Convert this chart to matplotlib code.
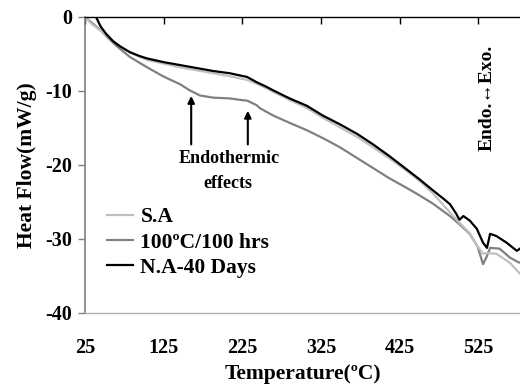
import matplotlib
matplotlib.use("Agg")
import matplotlib.pyplot as plt

plt.rcParams['font.family'] = ['Liberation Serif', 'DejaVu Serif']
plt.rcParams['font.weight'] = 'bold'
plt.rcParams['axes.unicode_minus'] = False

# Data
t_sa = [25, 33, 44, 53, 65, 82, 95, 104, 125, 146, 167, 188, 209, 222, 231, 243, 255, 264, 285, 307,
        327, 349, 371, 391, 412, 434, 451, 467, 489, 501, 514, 524, 531, 537, 548, 565, 578]
hf_sa = [0, -0.9, -1.8, -2.6, -3.6, -4.8, -5.4, -5.8, -6.3, -6.8, -7.2, -7.6, -8.0, -8.3, -8.5, -9.0,
         -9.6, -10.1, -11.2, -12.3, -13.6, -14.9, -16.2, -17.6, -19.1, -20.8, -22.2, -23.8, -26.4,
         -27.8, -29.2, -31.0, -32.0, -31.9, -32.0, -33.2, -34.7]

t_100 = [25, 35, 45, 53, 65, 82, 104, 124, 146, 158, 171, 188, 209, 222, 231, 235, 243, 247, 264, 285,
         307, 328, 349, 370, 391, 412, 434, 447, 467, 489, 501, 514, 524, 531, 536, 540, 552, 565, 575, 578]
hf_100 = [0, -0.9, -1.8, -2.7, -3.9, -5.4, -6.8, -8.0, -9.1, -9.9, -10.6, -10.9, -11.0, -11.2, -11.3,
          -11.5, -11.9, -12.3, -13.3, -14.3, -15.3, -16.4, -17.6, -19.0, -20.4, -21.8, -23.1, -23.9,
          -25.2, -26.9, -28.0, -29.3, -31.0, -33.4, -32.3, -31.2, -31.3, -32.5, -33.1, -33.2]

t_na = [39, 45, 52, 61, 70, 82, 95, 104, 125, 146, 167, 188, 209, 222, 231, 243, 255, 264, 285, 307,
        327, 349, 371, 391, 412, 434, 451, 467, 480, 489, 497, 501, 506, 514, 523, 531, 536, 540, 548,
        561, 574, 578]
hf_na = [0, -1.3, -2.3, -3.3, -4.0, -4.75, -5.3, -5.6, -6.1, -6.5, -6.9, -7.3, -7.6, -7.9, -8.1, -8.8,
         -9.4, -9.9, -11.0, -12.0, -13.3, -14.5, -15.8, -17.2, -18.8, -20.6, -22.0, -23.4, -24.5,
         -25.3, -26.6, -27.4, -26.9, -27.5, -28.6, -30.5, -31.2, -29.3, -29.6, -30.5, -31.6, -31.3]

labels = ['S.A', '100ºC/100 hrs', 'N.A-40 Days']
colors = ['#c0c0c0', '#808080', '#000000']

x_ticks = [25, 125, 225, 325, 425, 525]
y_ticks = [0, -10, -20, -30, -40]

fig = plt.figure(figsize=(5.2, 3.9), dpi=100)
ax = fig.add_axes([85/520, 1-313/390, 435/520, 296/390])

l2, = ax.plot(t_100, hf_100, color=colors[1], lw=1.6, label=labels[1])
l1, = ax.plot(t_sa, hf_sa, color=colors[0], lw=1.6, label=labels[0])
l3, = ax.plot(t_na, hf_na, color=colors[2], lw=1.6, label=labels[2])

ax.set_xlim(25, 578)
ax.set_ylim(-40, 0)
ax.set_xticks(x_ticks)
ax.set_yticks(y_ticks)

ax.spines['right'].set_visible(False)
ax.spines['top'].set_color('black')
ax.spines['top'].set_linewidth(1.0)
ax.spines['left'].set_color('#808080')
ax.spines['left'].set_linewidth(1.2)
ax.spines['bottom'].set_color('#b0b0b0')
ax.spines['bottom'].set_linewidth(1.0)

ax.tick_params(axis='x', top=True, bottom=False, labeltop=False, labelbottom=True,
               direction='in', length=5, width=1, color='black', pad=18, labelsize=14.5)
ax.tick_params(axis='y', left=True, direction='out', length=5, width=1, color='#808080',
               pad=4, labelsize=14.5)

ax.set_xlabel('Temperature(ºC)', fontsize=15.5, fontweight='bold', labelpad=4)
ax.set_ylabel('Heat Flow(mW/g)', fontsize=15.5, fontweight='bold', labelpad=6)

# annotations
ax.annotate('', xy=(160, -10.3), xytext=(160, -17.6),
            arrowprops=dict(arrowstyle='-|>', color='black', lw=1.5, mutation_scale=10))
ax.annotate('', xy=(232, -12.3), xytext=(232, -17.6),
            arrowprops=dict(arrowstyle='-|>', color='black', lw=1.5, mutation_scale=10))
ax.text(208, -19.1, 'Endothermic', ha='center', va='center', fontsize=13, fontweight='bold')
ax.text(207, -22.5, 'effects', ha='center', va='center', fontsize=13, fontweight='bold')
ax.text(536, -10.9, 'Endo.↔Exo.', rotation=90, ha='center', va='center', fontsize=14,
        fontweight='bold')

leg = ax.legend(handles=[l1, l2, l3], loc='upper left', bbox_to_anchor=(107/520, 1-207/390),
                bbox_transform=fig.transFigure, frameon=False, borderpad=0, borderaxespad=0,
                handlelength=1.2, handletextpad=0.35, labelspacing=0.25,
                prop={'size': 15.5, 'weight': 'bold'})

fig.savefig('out.png', dpi=100)
